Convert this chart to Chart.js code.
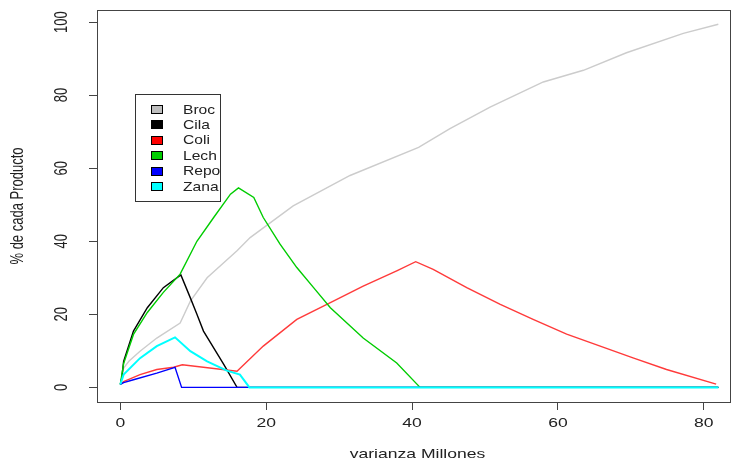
<!DOCTYPE html>
<html>
<head>
<meta charset="utf-8">
<script src="https://cdn.jsdelivr.net/npm/chart.js@4"></script>
<style>
  body { margin: 0; background: #fff; }
  #graph { display: block; }
</style>
</head>
<body>
<canvas id="graph" width="732" height="465"></canvas>
<script>
// values
const brocX = [0, 0.45, 1.2, 2.7, 5, 8.2, 9.6, 11.9, 16, 17.8, 23.7, 31.5, 40.9, 45.2, 50.7, 58, 63.5, 69.4, 77.2, 82];
const brocY = [0.8, 5.3, 7.2, 9.9, 13.5, 17.6, 23.6, 30, 37.4, 41, 49.7, 58, 65.7, 70.8, 76.7, 83.6, 86.8, 91.6, 96.9, 99.4];

const cilaX = [0, 0.2, 0.45, 1.8, 3.7, 5.9, 8.3, 9.6, 10.5, 11.4, 14.2, 16, 82];
const cilaY = [0.8, 2.6, 7.1, 15.4, 21.8, 27.3, 30.8, 24.5, 20, 15.4, 6.2, 0, 0];

const coliX = [0, 0.45, 2.7, 5, 7.3, 8.5, 16, 19.6, 24.2, 28.8, 33.3, 37.9, 40.5, 42.9, 47.5, 52.1, 56.6, 61.2, 65.8, 70.3, 74.9, 81.7];
const coliY = [0.8, 1.6, 3.5, 4.9, 5.5, 6.2, 4.4, 11.3, 18.6, 23.2, 27.7, 31.9, 34.4, 32.3, 27.3, 22.7, 18.6, 14.6, 11.3, 8.1, 4.9, 0.9];

const lechX = [0, 0.45, 1.8, 3.7, 5.9, 8.2, 10.5, 12.8, 15.1, 16.2, 18.3, 19.6, 21.9, 24.2, 26.5, 28.8, 33.3, 37.9, 41.1, 82];
const lechY = [0.8, 6.5, 14.5, 20.5, 26, 31, 40, 46.5, 52.9, 54.6, 52, 46.5, 39.2, 32.8, 27.3, 21.8, 13.5, 6.7, 0, 0];

const repoX = [0, 0.45, 1.8, 5, 7.5, 8.4, 82];
const repoY = [0.8, 1.3, 2.1, 3.9, 5.5, 0, 0];

const zanaX = [0, 0.45, 2.7, 5, 7.5, 9.6, 11.9, 14.6, 16.4, 17.7, 82];
const zanaY = [0.8, 3.5, 8, 11.3, 13.7, 9.9, 7.1, 4.6, 3.5, 0, 0];

const productos = ['Broc', 'Cila', 'Coli', 'Lech', 'Repo', 'Zana'];
const lineColors = ['#cccccc', '#000000', '#ff3a3a', '#00cc00', '#0000ff', '#00ffff'];
const boxColors = ['#bebebe', '#000000', '#ff0000', '#00cd00', '#0000ff', '#00ffff'];
const xTicks = [0, 20, 40, 60, 80];
const yTicks = [0, 20, 40, 60, 80, 100];

const seriesX = [brocX, cilaX, coliX, lechX, repoX, zanaX];
const seriesY = [brocY, cilaY, coliY, lechY, repoY, zanaY];

const FONT = 'Liberation Sans, Arial, sans-serif';
const SX = 1.35; // the reference text is wider than it is tall

const datasets = productos.map((name, i) => ({
    label: name,
    data: seriesX[i].map((x, j) => ({ x: x, y: seriesY[i][j] })),
    borderColor: lineColors[i],
    backgroundColor: boxColors[i],
    borderWidth: name === 'Zana' ? 2 : 1.4,
    pointRadius: 0,
    showLine: true,
    tension: 0,
    fill: false,
    order: productos.length - i   // later series drawn on top, as in R
}));

function wideText(ctx, txt, x, y, rot, sx) {
    ctx.save();
    ctx.translate(x, y);
    ctx.scale(sx || SX, 1);
    if (rot) ctx.rotate(rot);
    ctx.fillText(txt, 0, 0);
    ctx.restore();
}

// R style box, axis texts and legend inside the plot
const rStyle = {
    id: 'rStyle',
    afterDraw(chart) {
        const ctx = chart.ctx;
        const a = chart.chartArea;
        const x = chart.scales.x;
        const y = chart.scales.y;

        ctx.save();
        ctx.strokeStyle = '#444';
        ctx.lineWidth = 1;
        ctx.strokeRect(Math.round(a.left) + 0.5, Math.round(a.top) + 0.5,
            Math.round(a.right - a.left), Math.round(a.bottom - a.top));

        ctx.fillStyle = '#222';
        ctx.font = '13px ' + FONT;
        ctx.textAlign = 'center';
        ctx.textBaseline = 'middle';
        yTicks.forEach(v => {
            wideText(ctx, String(v), 62, y.getPixelForValue(v), -Math.PI / 2);
        });
        xTicks.forEach(v => {
            wideText(ctx, String(v), x.getPixelForValue(v), 423, 0);
        });
        wideText(ctx, 'varianza Millones', (a.left + a.right) / 2 + 4, 454, 0);
        wideText(ctx, '% de cada Producto', 18, (a.top + a.bottom) / 2, -Math.PI / 2);

        // legend
        const lx = 135, ly = 94, lw = 85, lh = 107;
        ctx.fillStyle = '#fff';
        ctx.fillRect(lx, ly, lw, lh);
        ctx.strokeStyle = '#333';
        ctx.strokeRect(lx + 0.5, ly + 0.5, lw, lh);
        ctx.textAlign = 'left';
        productos.forEach((name, i) => {
            const cy = 109 + i * 15.4;
            ctx.fillStyle = boxColors[i];
            ctx.fillRect(151, Math.round(cy - 4), 11, 8);
            ctx.strokeStyle = '#000';
            ctx.strokeRect(151.5, Math.round(cy - 4) + 0.5, 11, 8);
            ctx.fillStyle = '#222';
            wideText(ctx, name, 183, cy + 1, 0, 1.2);
        });
        ctx.restore();
    }
};

const graph = document.getElementById('graph').getContext('2d');

new Chart(graph, {
    type: 'scatter',
    data: { datasets: datasets },
    options: {
        responsive: false,
        animation: false,
        layout: { padding: { left: 0, top: 10, right: 2, bottom: 0 } },
        plugins: {
            legend: { display: false },
            tooltip: { enabled: false }
        },
        scales: {
            x: {
                type: 'linear',
                min: -3.2,
                max: 83.6,
                afterFit: scale => { scale.height = 63; },
                ticks: { stepSize: 20, includeBounds: false, display: false },
                grid: {
                    drawOnChartArea: false,
                    drawTicks: true,
                    tickLength: 8,
                    color: '#444'
                },
                border: { display: false }
            },
            y: {
                type: 'linear',
                min: -4,
                max: 103.3,
                afterFit: scale => { scale.width = 97; },
                ticks: { stepSize: 20, includeBounds: false, display: false },
                grid: {
                    drawOnChartArea: false,
                    drawTicks: true,
                    tickLength: 8,
                    color: '#444'
                },
                border: { display: false }
            }
        }
    },
    plugins: [rStyle]
});
</script>
</body>
</html>
